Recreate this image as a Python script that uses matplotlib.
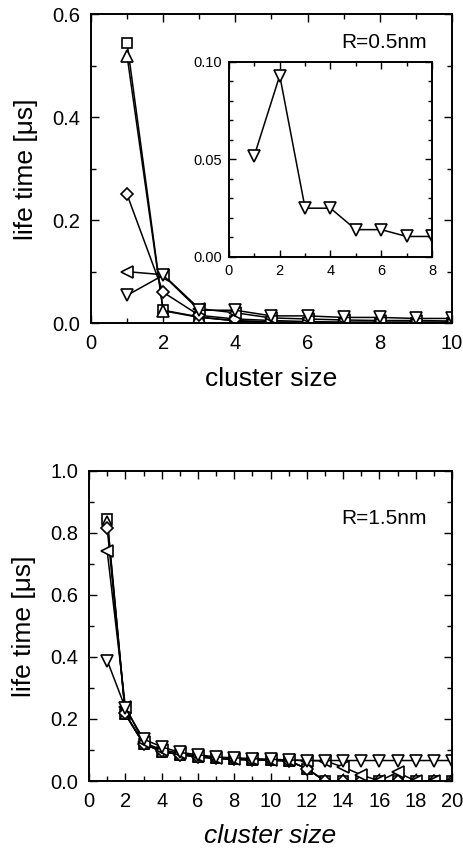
import matplotlib
matplotlib.use("Agg")
import matplotlib.pyplot as plt
from matplotlib.ticker import MultipleLocator

plt.rcParams["font.family"] = ["Liberation Sans", "DejaVu Sans"]

# R = 0.5 nm
x_top = [1, 2, 3, 4, 5, 6, 7, 8, 9, 10]
top_square = [0.545, 0.025, 0.012, 0.004, 0.002, 0.001, 0.0005, 0.0, 0.0, 0.0]
top_up = [0.52, 0.024, 0.011, 0.005, 0.002, 0.001, 0.0, 0.0, 0.0, 0.0]
top_diamond = [0.25, 0.06, 0.015, 0.008, 0.005, 0.003, 0.002, 0.002, 0.002, 0.002]
top_left = [0.1, 0.094, 0.028, 0.02, 0.01, 0.008, 0.006, 0.005, 0.005, 0.004]
top_down = [0.054, 0.093, 0.025, 0.025, 0.014, 0.014, 0.011, 0.011, 0.009, 0.009]

# inset: down-triangle series, sizes 1-8
x_inset = [1, 2, 3, 4, 5, 6, 7, 8]
inset_down = [0.052, 0.093, 0.025, 0.025, 0.014, 0.014, 0.0105, 0.0105]

# R = 1.5 nm
x_bot = list(range(1, 21))
bot_square = [0.845, 0.215, 0.12, 0.095, 0.085, 0.078, 0.073, 0.07, 0.068, 0.067,
              0.065, 0.04, 0, 0, 0, 0, 0, 0, 0, 0]
bot_up = [0.838, 0.215, 0.12, 0.095, 0.085, 0.078, 0.073, 0.07, 0.068, 0.067,
          0.065, 0.04, 0, 0, 0, 0, 0, 0, 0, 0]
bot_diamond = [0.815, 0.218, 0.12, 0.096, 0.085, 0.078, 0.073, 0.07, 0.068, 0.067,
               0.065, 0.04, 0, 0, 0, 0, 0, 0, 0, 0]
bot_left = [0.74, 0.24, 0.125, 0.1, 0.09, 0.08, 0.075, 0.072, 0.07, 0.068,
            0.067, 0.066, 0.065, 0.045, 0.02, 0.0, 0.028, 0, 0, 0]
bot_down = [0.388, 0.235, 0.135, 0.11, 0.092, 0.085, 0.077, 0.075, 0.072, 0.07,
            0.068, 0.066, 0.066, 0.066, 0.066, 0.066, 0.066, 0.066, 0.066, 0.066]

style = dict(color="black", lw=1.1, mfc="white", mec="black", mew=1.2)


def setup(ax, fs, length=6, pad=8):
    ax.tick_params(which="both", direction="in", top=True, right=True,
                   labelsize=fs, width=1.0)
    ax.tick_params(which="major", length=length, pad=pad)
    ax.tick_params(which="minor", length=length * 0.55)
    for s in ax.spines.values():
        s.set_linewidth(1.4)


fig = plt.figure(figsize=(4.64, 8.48), dpi=100)

ax1 = fig.add_axes([0.196, 0.619, 0.778, 0.364])
ax1.plot(x_top, top_square, marker="s", ms=6.5, **style)
ax1.plot(x_top, top_up, marker="^", ms=8, **style)
ax1.plot(x_top, top_diamond, marker="D", ms=6, **style)
ax1.plot(x_top, top_left, marker="<", ms=8, **style)
ax1.plot(x_top, top_down, marker="v", ms=8, **style)
ax1.set_xlim(0, 10)
ax1.set_ylim(0, 0.6)
ax1.xaxis.set_major_locator(MultipleLocator(2))
ax1.xaxis.set_minor_locator(MultipleLocator(1))
ax1.yaxis.set_major_locator(MultipleLocator(0.2))
ax1.yaxis.set_minor_locator(MultipleLocator(0.1))
ax1.yaxis.set_major_formatter(lambda v, p: f"{v:.1f}")
setup(ax1, 14.5)
ax1.set_xlabel("cluster size", fontsize=19, labelpad=10)
ax1.set_ylabel("life time [\u03bcs]", fontsize=19, labelpad=10)
ax1.text(0.93, 0.91, "R=0.5nm", transform=ax1.transAxes, ha="right",
         va="center", fontsize=15)

ax_in = fig.add_axes([0.4935, 0.697, 0.4375, 0.230])
ax_in.plot(x_inset, inset_down, marker="v", ms=8, **style)
ax_in.set_xlim(0, 8)
ax_in.set_ylim(0, 0.10)
ax_in.xaxis.set_major_locator(MultipleLocator(2))
ax_in.xaxis.set_minor_locator(MultipleLocator(1))
ax_in.yaxis.set_major_locator(MultipleLocator(0.05))
ax_in.yaxis.set_minor_locator(MultipleLocator(0.01))
ax_in.yaxis.set_major_formatter(lambda v, p: f"{v:.2f}")
setup(ax_in, 10.5, length=5, pad=5)

ax2 = fig.add_axes([0.192, 0.079, 0.782, 0.366])
ax2.plot(x_bot, bot_square, marker="s", ms=6.5, **style)
ax2.plot(x_bot, bot_up, marker="^", ms=7, **style)
ax2.plot(x_bot, bot_diamond, marker="D", ms=6, **style)
ax2.plot(x_bot, bot_left, marker="<", ms=8, **style)
ax2.plot(x_bot, bot_down, marker="v", ms=8, **style)
ax2.set_xlim(0, 20)
ax2.set_ylim(0, 1.0)
ax2.xaxis.set_major_locator(MultipleLocator(2))
ax2.xaxis.set_minor_locator(MultipleLocator(1))
ax2.yaxis.set_major_locator(MultipleLocator(0.2))
ax2.yaxis.set_minor_locator(MultipleLocator(0.1))
ax2.yaxis.set_major_formatter(lambda v, p: f"{v:.1f}")
setup(ax2, 14.5)
ax2.set_xlabel("cluster size", fontsize=19, style="italic", labelpad=9)
ax2.set_ylabel("life time [\u03bcs]", fontsize=19, labelpad=10)
ax2.text(0.93, 0.845, "R=1.5nm", transform=ax2.transAxes, ha="right",
         va="center", fontsize=15)

fig.savefig("out.png", dpi=100)
